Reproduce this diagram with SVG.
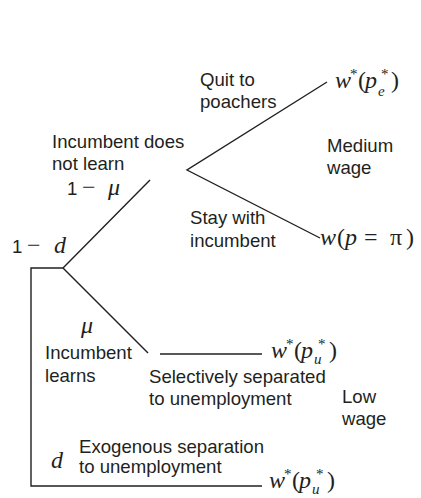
<svg xmlns="http://www.w3.org/2000/svg" width="421" height="498" viewBox="0 0 421 498">
<style>
.t{font-family:"Liberation Sans",Arial,sans-serif;font-size:18.6px;fill:#231f20}
.m{font-family:"Liberation Serif","Times New Roman",serif;font-size:24px;fill:#231f20}
.i{font-style:italic}
.s{font-size:15px}
.c{stroke:#231f20;stroke-width:1.4;fill:none}
</style>
<rect width="421" height="498" fill="#fff"/>
<g id="connectors" class="c">
<polyline points="327,82 187,170 320,238"/>
<line x1="150" y1="180" x2="63" y2="268"/>
<polyline points="63,268 31,268 31,486 262,486"/>
<line x1="63" y1="268" x2="148" y2="353"/>
<line x1="160" y1="354" x2="262" y2="354"/>
</g>
<g id="root">
<text class="t" x="12" y="253">1</text>
<text class="m" x="27" y="253">−</text>
<text class="m i" x="54" y="253">d</text>
</g>
<g id="not-learn">
<text class="t" x="52" y="148">Incumbent does</text>
<text class="t" x="52" y="170">not learn</text>
<text class="t" x="67" y="195">1</text>
<text class="m" x="82" y="195">−</text>
<text class="m i" x="108" y="195">μ</text>
</g>
<g id="quit">
<text class="t" x="200" y="86">Quit to</text>
<text class="t" x="200" y="108">poachers</text>
<text class="m"><tspan class="i" x="335" y="88">w</tspan><tspan class="s" x="350" y="79">*</tspan><tspan x="358" y="88">(</tspan><tspan class="i" x="365" y="88">p</tspan><tspan class="s" x="381" y="79">*</tspan><tspan class="s i" x="378" y="96">e</tspan><tspan x="391" y="88">)</tspan></text>
</g>
<g id="medium">
<text class="t" x="327" y="152">Medium</text>
<text class="t" x="327" y="174">wage</text>
</g>
<g id="stay">
<text class="t" x="190" y="224">Stay with</text>
<text class="t" x="190" y="247">incumbent</text>
<text class="m"><tspan class="i" x="320" y="245">w</tspan><tspan x="337" y="245">(</tspan><tspan class="i" x="345" y="245">p</tspan><tspan x="364" y="245">=</tspan><tspan x="390" y="245">π</tspan><tspan x="406" y="245">)</tspan></text>
</g>
<g id="learns">
<text class="m i" x="81" y="333">μ</text>
<text class="t" x="45" y="359">Incumbent</text>
<text class="t" x="45" y="382">learns</text>
</g>
<g id="selective">
<text class="t" x="149" y="383">Selectively separated</text>
<text class="t" x="149" y="405">to unemployment</text>
<text class="m"><tspan class="i" x="271" y="358">w</tspan><tspan class="s" x="286" y="349">*</tspan><tspan x="294" y="358">(</tspan><tspan class="i" x="301" y="358">p</tspan><tspan class="s" x="318" y="349">*</tspan><tspan class="s i" x="314" y="364">u</tspan><tspan x="329" y="358">)</tspan></text>
</g>
<g id="low">
<text class="t" x="342" y="403">Low</text>
<text class="t" x="342" y="425">wage</text>
</g>
<g id="exogenous">
<text class="m i" x="51" y="468">d</text>
<text class="t" x="79" y="453">Exogenous separation</text>
<text class="t" x="79" y="473">to unemployment</text>
<text class="m"><tspan class="i" x="269" y="488">w</tspan><tspan class="s" x="284" y="479">*</tspan><tspan x="292" y="488">(</tspan><tspan class="i" x="299" y="488">p</tspan><tspan class="s" x="316" y="479">*</tspan><tspan class="s i" x="312" y="494">u</tspan><tspan x="327" y="488">)</tspan></text>
</g>
</svg>
